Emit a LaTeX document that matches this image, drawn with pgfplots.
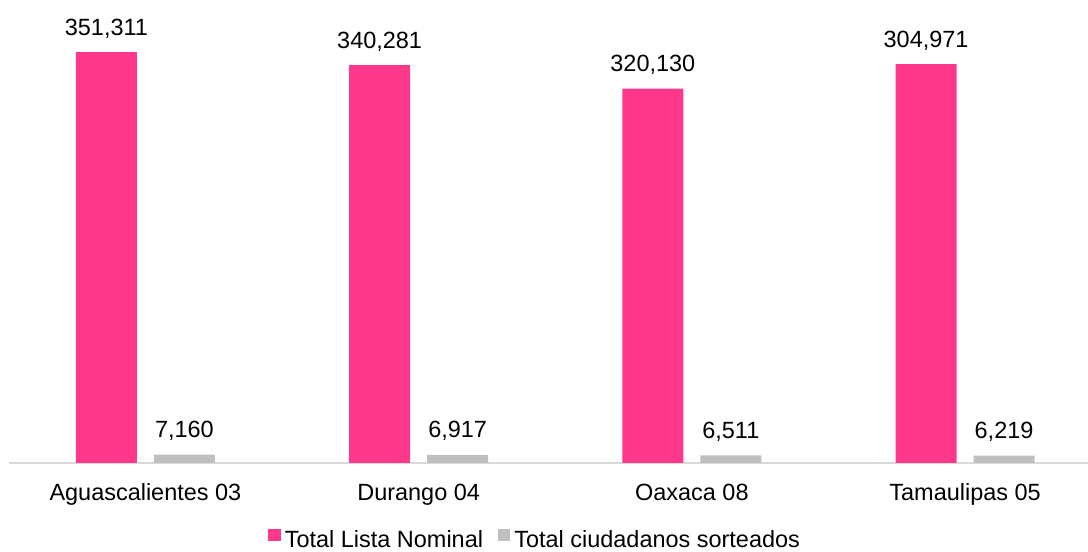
\documentclass[border=0pt]{standalone}
\usepackage{pgfplots}
\pgfplotsset{compat=1.18}
\usepackage{fontspec}
\setmainfont{Liberation Sans}
\definecolor{pinkc}{HTML}{FF388C}
\definecolor{greyc}{HTML}{BFBFBF}
\definecolor{axisc}{HTML}{D9D9D9}
\begin{document}
\fontsize{17.6pt}{21pt}\selectfont
\begin{tikzpicture}
\path[use as bounding box] (0,0) rectangle (816pt,414pt);
\begin{axis}[
  at={(6.6pt,66.75pt)}, anchor=south west,
  scale only axis, width=809.4pt, height=347.25pt,
  xmin=-0.5, xmax=3.45, ymin=0, ymax=396000,
  axis y line=none, axis x line*=bottom,
  x axis line style={draw=axisc, line width=0.9pt, -},
  xtick=data,
  xticklabels={Aguascalientes 03, Durango 04, Oaxaca 08, Tamaulipas 05},
  major tick length=0pt, xtick style={draw=none},
  xticklabel style={anchor=base, yshift=-28.5pt, text=black},
  ybar=0pt, bar width=0.223,
  nodes near coords,
  every node near coord/.append style={anchor=base, yshift=12.75pt, text=black},
  /pgf/number format/.cd, fixed, precision=0, 1000 sep={,}, assume math mode=true, /pgfplots/.cd,
  clip=false,
  legend columns=2,
  legend style={at={(rel axis cs:0.2365,-0.167)}, anchor=west, draw=none, fill=none,
    /tikz/every even column/.append style={column sep=9pt}},
]
% bar heights as drawn in the reference; labels as printed there
\addplot[fill=pinkc, draw=none, bar shift=-0.1427, forget plot, point meta=explicit]
  coordinates {(0,351311) [351311] (1,340281) [340281] (2,320130) [320130] (3,341100) [304971]};
\addplot[fill=greyc, draw=none, bar shift=0.1427, forget plot, point meta=explicit]
  coordinates {(0,7160) [7160] (1,6917) [6917] (2,6511) [6511] (3,6219) [6219]};
\addlegendimage{legend image code/.code={\fill[pinkc] (0pt,0pt) rectangle (8.5pt,8pt); \path (10pt,0pt);}}
\addlegendentry{Total Lista Nominal}
\addlegendimage{legend image code/.code={\fill[greyc] (0pt,0pt) rectangle (8.5pt,8pt); \path (10pt,0pt);}}
\addlegendentry{Total ciudadanos sorteados}
\end{axis}
\end{tikzpicture}
\end{document}
